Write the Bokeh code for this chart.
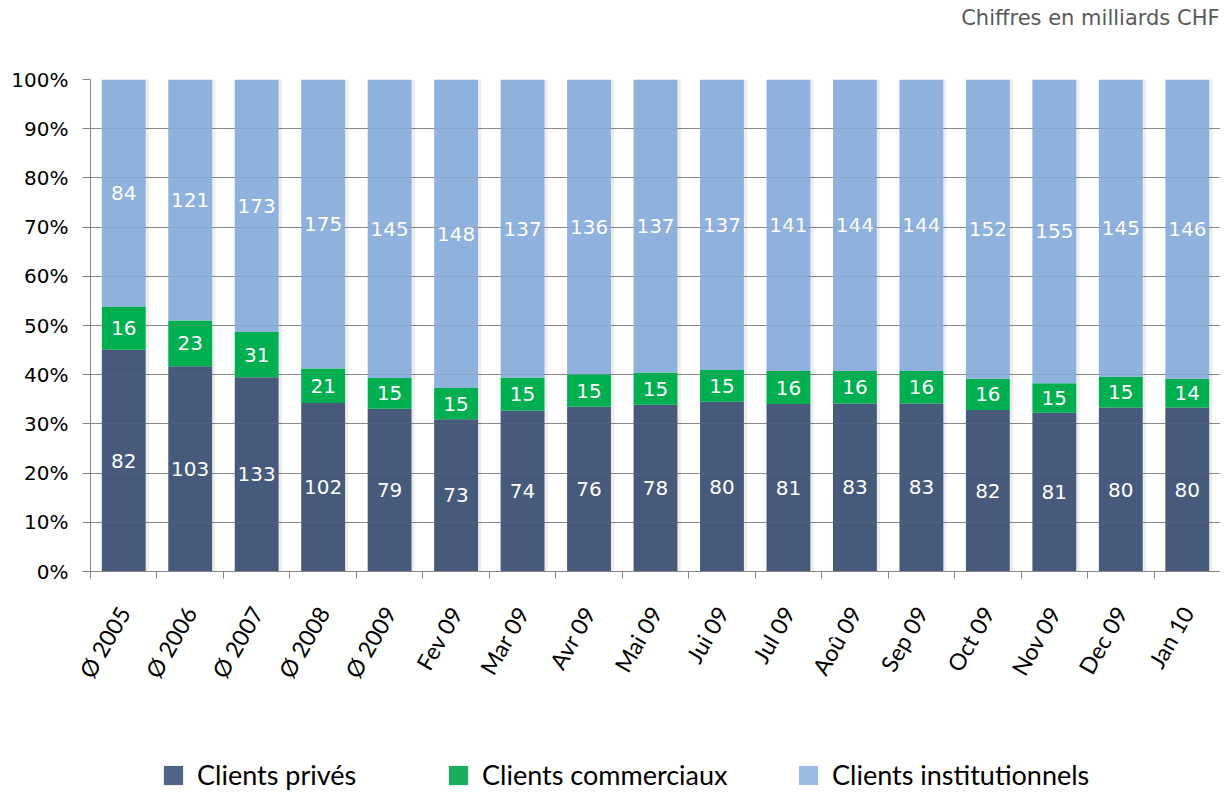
from bokeh.plotting import figure
from bokeh.models import (FixedTicker, NumeralTickFormatter, Range1d, Legend, LegendItem,
                          ColumnDataSource, Label, Grid)
from bokeh.layouts import column
from bokeh.core.properties import value
from bokeh.embed import file_html
from bokeh.resources import INLINE

categories = ["Ø 2005", "Ø 2006", "Ø 2007", "Ø 2008", "Ø 2009", "Fev 09", "Mar 09", "Avr 09",
              "Mai 09", "Jui 09", "Jul 09", "Aoû 09", "Sep 09", "Oct 09", "Nov 09", "Dec 09", "Jan 10"]
prives = [82, 103, 133, 102, 79, 73, 74, 76, 78, 80, 81, 83, 83, 82, 81, 80, 80]
commerciaux = [16, 23, 31, 21, 15, 15, 15, 15, 15, 15, 16, 16, 16, 16, 15, 15, 14]
institutionnels = [84, 121, 173, 175, 145, 148, 137, 136, 137, 137, 141, 144, 144, 152, 155, 145, 146]
series_names = ["Clients privés", "Clients commerciaux", "Clients institutionnels"]
y_ticks = [0, 0.1, 0.2, 0.3, 0.4, 0.5, 0.6, 0.7, 0.8, 0.9, 1.0]
note = "Chiffres en milliards CHF"

colors = ["#465a7c", "#00b050", "#8fb1de"]
legend_colors = ["#4f6689", "#1bae5f", "#9bbbe4"]

n = len(categories)
xs = list(range(n))
totals = [a + b + c for a, b, c in zip(prives, commerciaux, institutionnels)]
series = [prives, commerciaux, institutionnels]

W = 1220

# top strip with the note
p0 = figure(width=W, height=36, output_backend="svg", toolbar_location=None,
            x_range=Range1d(0, 1), y_range=Range1d(0, 1),
            min_border=0, x_axis_location=None, y_axis_location=None)
p0.outline_line_color = None
p0.xgrid.visible = False
p0.ygrid.visible = False
p0.add_layout(Label(x=W - 91, y=19, x_units="screen", y_units="screen", text=note,
                    text_align="right", text_baseline="middle", text_color="#595959",
                    text_font="DejaVu Sans", text_font_size="21px"))

# main chart
p = figure(width=W, height=716, output_backend="svg", toolbar_location=None,
           x_range=Range1d(-0.5, n - 0.5), y_range=Range1d(0, 1),
           min_border_left=90, min_border_right=0, min_border_top=43, min_border_bottom=181)
p.outline_line_color = None
p.background_fill_color = "white"
p.border_fill_color = "white"

# soft shadow on the right side of bars
p.vbar(x=[x + 0.05 for x in xs], top=[1.0] * n, bottom=0, width=0.66,
       fill_color="#000000", fill_alpha=0.07, line_color=None)

bottom = [0.0] * n
for vals, col in zip(series, colors):
    frac = [v / t for v, t in zip(vals, totals)]
    top = [b + f for b, f in zip(bottom, frac)]
    src = ColumnDataSource(dict(x=xs, bottom=bottom, top=top,
                                mid=[(b + t) / 2 for b, t in zip(bottom, top)],
                                lab=[str(v) for v in vals]))
    p.vbar(x="x", bottom="bottom", top="top", width=0.66, source=src,
           fill_color=col, line_color=None)
    p.text(x="x", y="mid", text="lab", source=src, text_color="white",
           text_font=value("DejaVu Sans"), text_font_size="20px",
           text_align="center", text_baseline="middle")
    bottom = top

# x axis: labels at bar centres, tick marks between bars
p.xaxis.ticker = FixedTicker(ticks=xs, minor_ticks=[x - 0.5 for x in xs] + [n - 0.5])
p.xaxis.major_label_overrides = {x: c for x, c in zip(xs, categories)}
p.xaxis.major_tick_out = 0
p.xaxis.major_tick_in = 0
p.xaxis.minor_tick_out = 7
p.xaxis.minor_tick_in = 0
p.xaxis.minor_tick_line_color = "#868686"
p.xaxis.axis_line_color = "#868686"
p.xaxis.major_label_orientation = 1.05
p.xaxis.major_label_text_font = "Lato"
p.xaxis.major_label_text_font_size = "23px"
p.xaxis.major_label_text_color = "#000000"
p.xaxis.major_label_standoff = 30

p.yaxis.ticker = FixedTicker(ticks=y_ticks, minor_ticks=[])
p.yaxis.formatter = NumeralTickFormatter(format="0%")
p.yaxis.major_tick_out = 8
p.yaxis.major_tick_in = 0
p.yaxis.major_tick_line_color = "#868686"
p.yaxis.axis_line_color = "#868686"
p.yaxis.major_label_text_font = "DejaVu Sans"
p.yaxis.major_label_text_font_size = "20px"
p.yaxis.major_label_text_color = "#000000"
p.yaxis.major_label_standoff = 14

p.xgrid.visible = False
p.ygrid.ticker = FixedTicker(ticks=y_ticks)
p.ygrid.grid_line_color = "#8c8c8c"
# faint gridlines showing through the bars
p.add_layout(Grid(dimension=1, ticker=FixedTicker(ticks=y_ticks), level="guide",
                  grid_line_color="#808080", grid_line_alpha=0.22))

# legend strip
p2 = figure(width=W, height=40, output_backend="svg", toolbar_location=None,
            x_range=Range1d(0, 1), y_range=Range1d(0, 1),
            min_border=0, x_axis_location=None, y_axis_location=None)
p2.outline_line_color = None
p2.xgrid.visible = False
p2.ygrid.visible = False
leg_x = [71, 356, 706]
for name, lc, lx in zip(series_names, legend_colors, leg_x):
    proxy = p2.vbar(x=[-50], top=[0], bottom=[0], width=0.01, fill_color=lc, line_color=None)
    leg = Legend(items=[LegendItem(label=name, renderers=[proxy])], location=(lx, 1),
                 orientation="horizontal", glyph_width=24, glyph_height=24,
                 label_text_font="Lato", label_text_font_size="27px", label_standoff=12,
                 padding=0, margin=0, border_line_color=None, background_fill_alpha=0,
                 label_text_color="#000000", label_text_baseline="middle")
    p2.add_layout(leg)

open("out.html", "w").write(file_html(column(p0, p, p2, spacing=0), INLINE))
